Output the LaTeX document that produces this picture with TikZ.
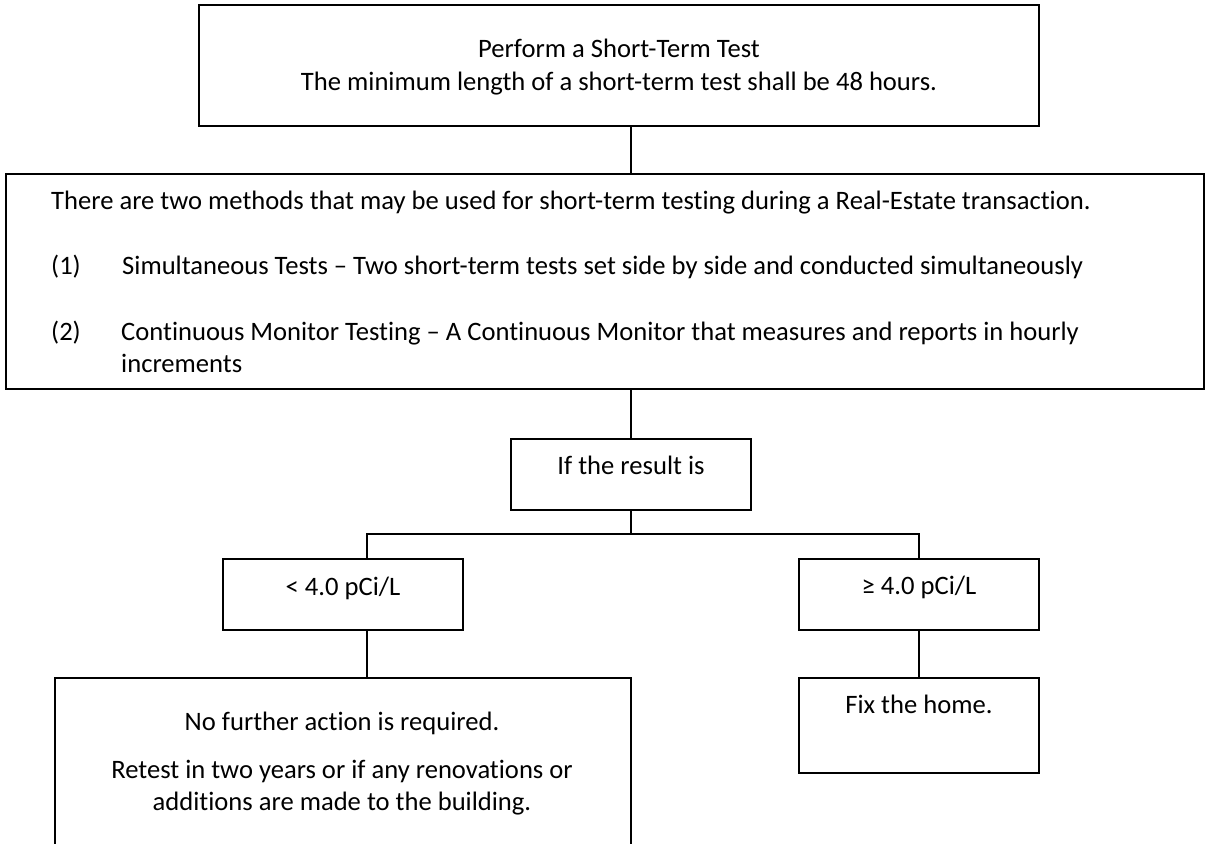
\documentclass[tikz,border=0pt]{standalone}
\usepackage{fontspec}
\setmainfont{Carlito}[Ligatures={NoCommon}]
\begin{document}
\begin{tikzpicture}[x=1pt,y=-1pt,
  box/.style={draw=black, line width=2pt, inner sep=0pt},
  lbl/.style={inner sep=0pt, font=\fontsize{26.6}{32}\selectfont, anchor=base},
  lbll/.style={lbl, anchor=base west},
  link/.style={draw=black, line width=2pt}]
\useasboundingbox (0,0) rectangle (1209,843);
\clip (0,0) rectangle (1209,843);
\fill[white] (0,0) rectangle (1209,843);
% boxes
\node[box, minimum width=840pt, minimum height=121pt] (top) at (619,65.5) {};
\node[box, minimum width=1198pt, minimum height=215pt] (big) at (605,281.5) {};
\node[box, minimum width=240pt, minimum height=71pt] (result) at (631,474) {};
\node[box, minimum width=240pt, minimum height=71pt] (low) at (343,594) {};
\node[box, minimum width=240pt, minimum height=71pt] (high) at (919,594) {};
\node[box, minimum width=576pt, minimum height=200pt] (keep) at (343,778) {};
\node[box, minimum width=240pt, minimum height=95pt] (fix) at (919,725.5) {};
% texts
\node[lbl] (t1) at (619,58) {Perform a Short-Term Test};
\node[lbl] (t2) at (619,90) {The minimum length of a short-term test shall be 48 hours.};
\node[lbll] (b0) at (51,209) {There are two methods that may be used for short-term testing during a Real-Estate transaction.};
\node[lbll] (n1) at (51,274) {(1)};
\node[lbll] (b1) at (122,274) {Simultaneous Tests – Two short-term tests set side by side and conducted simultaneously};
\node[lbll] (n2) at (51,340) {(2)};
\node[lbll] (b2) at (121,340) {Continuous Monitor Testing – A Continuous Monitor that measures and reports in hourly};
\node[lbll] (b3) at (121,372) {increments};
\node[lbl] (tr) at (631,474) {If the result is};
\node[lbl] (tl) at (343,595) {< 4.0 pCi/L};
\node[lbl] (th) at (919,594) {≥ 4.0 pCi/L};
\node[lbl] (tf) at (919,713) {Fix the home.};
\node[lbl] (k1) at (342,730) {No further action is required.};
\node[lbl] (k2) at (342,778) {Retest in two years or if any renovations or};
\node[lbl] (k3) at (342,810) {additions are made to the building.};
% connectors
\coordinate (lj) at (367,534);
\coordinate (rj) at (919,534);
\draw[link] (top.south -| result.north) -- (big.north -| result.north);
\draw[link] (big.south -| result.north) -- (result.north);
\draw[link] (result.south) |- (lj) -- (lj |- low.north);
\draw[link] (result.south |- lj) -| (high.north);
\draw[link] (lj |- low.south) -- (lj |- keep.north);
\draw[link] (high.south) -- (fix.north);
\end{tikzpicture}
\end{document}
